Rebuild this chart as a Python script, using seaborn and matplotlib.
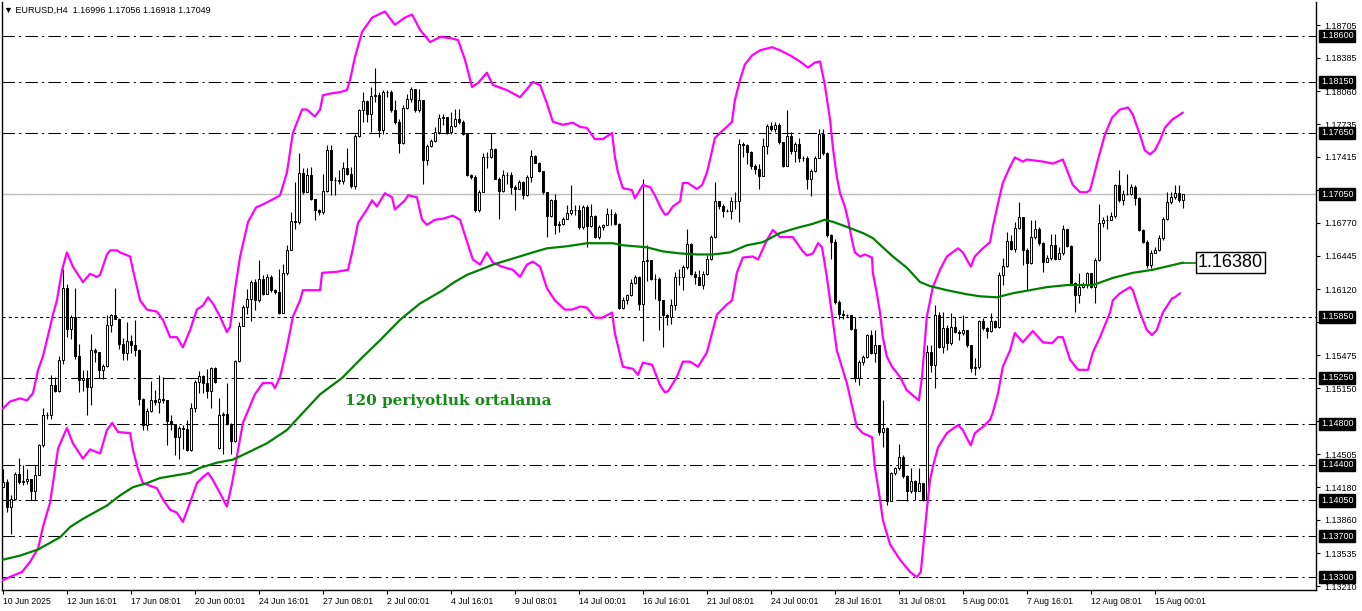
import numpy as np
import matplotlib
matplotlib.use("Agg")
import matplotlib.pyplot as plt
import seaborn as sns

# --- EURUSD H4 candles (one value per 4h bar) ---
closes = [
    1.14232, 1.13987, 1.14069, 1.14314, 1.14232, 1.14242, 1.14265, 1.14144, 1.14304, 1.14591,
    1.14885, 1.14885, 1.15179, 1.15124, 1.15424, 1.16133, 1.15734, 1.15849, 1.15467, 1.15228,
    1.15245, 1.15163, 1.15522, 1.15506, 1.15326, 1.15369, 1.15773, 1.15865, 1.15832, 1.15587,
    1.15496, 1.15613, 1.15571, 1.15522, 1.15042, 1.14787, 1.14928, 1.15039, 1.15016, 1.15042,
    1.15032, 1.14826, 1.14797, 1.14673, 1.14764, 1.14755, 1.14542, 1.14957, 1.15212, 1.15267,
    1.15202, 1.15120, 1.15349, 1.15212, 1.14885, 1.14895, 1.14797, 1.14631, 1.15418, 1.15760,
    1.15947, 1.16028, 1.16191, 1.16012, 1.16224, 1.16077, 1.16240, 1.16110, 1.16094, 1.15891,
    1.16280, 1.16502, 1.16789, 1.16779, 1.17253, 1.17073, 1.17236, 1.17008, 1.16894, 1.16871,
    1.17080, 1.17481, 1.17187, 1.17187, 1.17178, 1.17308, 1.17253, 1.17129, 1.17622, 1.17873,
    1.17961, 1.17840, 1.18013, 1.18020, 1.17677, 1.18052, 1.18052, 1.17873, 1.17759, 1.17556,
    1.17896, 1.17981, 1.18079, 1.17873, 1.17971, 1.17383, 1.17524, 1.17569, 1.17661, 1.17798,
    1.17808, 1.17661, 1.17720, 1.17791, 1.17759, 1.17644, 1.17236, 1.17220, 1.16894, 1.17073,
    1.17416, 1.17416, 1.17491, 1.17204, 1.17080, 1.17243, 1.17243, 1.17122, 1.17106, 1.17165,
    1.17040, 1.17220, 1.17426, 1.17360, 1.17276, 1.17073, 1.16838, 1.16998, 1.16747, 1.16756,
    1.16812, 1.16867, 1.16894, 1.16894, 1.16730, 1.16926, 1.16740, 1.16838, 1.16632, 1.16730,
    1.16744, 1.16858, 1.16858, 1.16760, 1.15936, 1.16011, 1.16060, 1.16184, 1.16239, 1.15978,
    1.16395, 1.16402, 1.16223, 1.16223, 1.16011, 1.15864, 1.15848, 1.15969, 1.16239, 1.16239,
    1.16337, 1.16565, 1.16272, 1.16239, 1.16164, 1.16272, 1.16418, 1.16630, 1.16982, 1.16933,
    1.16881, 1.16881, 1.16988, 1.16988, 1.17542, 1.17536, 1.17461, 1.17330, 1.17298, 1.17233,
    1.17526, 1.17721, 1.17689, 1.17728, 1.17558, 1.17330, 1.17617, 1.17477, 1.17542, 1.17402,
    1.17402, 1.17200, 1.17282, 1.17402, 1.17640, 1.17451, 1.16646, 1.16581, 1.15995, 1.15881,
    1.15864, 1.15864, 1.15734, 1.15245, 1.15408, 1.15457, 1.15675, 1.15490, 1.15571, 1.14724,
    1.14757, 1.14040, 1.14318, 1.14366, 1.14471, 1.14285, 1.14138, 1.14236, 1.14138, 1.14220,
    1.14057, 1.15508, 1.15377, 1.15866, 1.15557, 1.15736, 1.15589, 1.15752, 1.15703, 1.15687,
    1.15720, 1.15573, 1.15345, 1.15361, 1.15811, 1.15736, 1.15710, 1.15808, 1.15752, 1.16258,
    1.16349, 1.16594, 1.16512, 1.16724, 1.16828, 1.16502, 1.16372, 1.16633, 1.16714, 1.16568,
    1.16388, 1.16421, 1.16551, 1.16414, 1.16470, 1.16708, 1.16545, 1.16176, 1.16062, 1.16144,
    1.16160, 1.16274, 1.16144, 1.16404, 1.16773, 1.16796, 1.16802, 1.16838, 1.17145, 1.16991,
    1.17057, 1.17057, 1.17122, 1.17014, 1.16698, 1.16584, 1.16356, 1.16476, 1.16502, 1.16626,
    1.16812, 1.16975, 1.17024, 1.17066, 1.16991, 1.17049,
]
highs = [
    1.14363, 1.14265, 1.14102, 1.14330, 1.14467, 1.14396, 1.14363, 1.14265, 1.14396, 1.14608,
    1.14951, 1.14918, 1.15277, 1.15261, 1.15467, 1.16316, 1.16175, 1.15865, 1.16133, 1.15587,
    1.15326, 1.15326, 1.15685, 1.15545, 1.15506, 1.15391, 1.15865, 1.15881, 1.16133, 1.15839,
    1.15643, 1.15800, 1.15669, 1.15816, 1.15538, 1.15055, 1.14957, 1.15218, 1.15130, 1.15284,
    1.15261, 1.15032, 1.14885, 1.14804, 1.14781, 1.14787, 1.14836, 1.15009, 1.15228, 1.15316,
    1.15277, 1.15342, 1.15359, 1.15359, 1.15055, 1.14918, 1.15196, 1.14813, 1.15424, 1.15800,
    1.15969, 1.16126, 1.16208, 1.16224, 1.16404, 1.16257, 1.16273, 1.16257, 1.16126, 1.16322,
    1.16371, 1.16551, 1.16877, 1.17171, 1.17449, 1.17302, 1.17302, 1.17318, 1.17008, 1.16910,
    1.17253, 1.17537, 1.17537, 1.17220, 1.17285, 1.17367, 1.17498, 1.17318, 1.17644, 1.17889,
    1.18052, 1.17971, 1.18102, 1.18288, 1.18052, 1.18069, 1.18069, 1.18069, 1.17971, 1.17791,
    1.17922, 1.18036, 1.18102, 1.18085, 1.18085, 1.17971, 1.17546, 1.17595, 1.17710, 1.17840,
    1.17840, 1.17775, 1.17857, 1.17889, 1.17889, 1.17775, 1.17644, 1.17253, 1.17236, 1.17089,
    1.17449, 1.17465, 1.17654, 1.17504, 1.17220, 1.17285, 1.17269, 1.17269, 1.17145, 1.17187,
    1.17178, 1.17236, 1.17481, 1.17439, 1.17367, 1.17276, 1.17073, 1.17008, 1.17057, 1.16786,
    1.16828, 1.16943, 1.17138, 1.16943, 1.16943, 1.16943, 1.16943, 1.16959, 1.16845, 1.16747,
    1.16760, 1.16913, 1.16907, 1.16874, 1.16770, 1.16043, 1.16076, 1.16223, 1.16255, 1.16249,
    1.17200, 1.16548, 1.16386, 1.16272, 1.16239, 1.16017, 1.15881, 1.16027, 1.16288, 1.16320,
    1.16353, 1.16711, 1.16575, 1.16294, 1.16304, 1.16294, 1.16451, 1.16646, 1.17167, 1.16988,
    1.16956, 1.16907, 1.17021, 1.17070, 1.17591, 1.17558, 1.17542, 1.17477, 1.17347, 1.17347,
    1.17598, 1.17738, 1.17754, 1.17754, 1.17747, 1.17565, 1.17874, 1.17656, 1.17558, 1.17598,
    1.17422, 1.17422, 1.17298, 1.17428, 1.17689, 1.17689, 1.17461, 1.16663, 1.16614, 1.16011,
    1.15913, 1.15881, 1.15871, 1.15848, 1.15425, 1.15473, 1.15685, 1.15718, 1.15718, 1.15571,
    1.15034, 1.14773, 1.14333, 1.14382, 1.14601, 1.14497, 1.14301, 1.14366, 1.14252, 1.14366,
    1.14220, 1.15573, 1.15573, 1.15964, 1.15899, 1.15893, 1.15769, 1.15883, 1.15850, 1.15720,
    1.15866, 1.15720, 1.15573, 1.15443, 1.15818, 1.15841, 1.15752, 1.15883, 1.15818, 1.16290,
    1.16421, 1.16682, 1.16649, 1.16780, 1.16975, 1.16828, 1.16519, 1.16796, 1.16796, 1.16731,
    1.16584, 1.16453, 1.16665, 1.16665, 1.16535, 1.16747, 1.16714, 1.16551, 1.16193, 1.16274,
    1.16186, 1.16290, 1.16274, 1.16421, 1.16959, 1.16828, 1.16845, 1.16877, 1.17154, 1.17285,
    1.17089, 1.17252, 1.17154, 1.17138, 1.17024, 1.16708, 1.16600, 1.16502, 1.16535, 1.16649,
    1.16828, 1.17073, 1.17073, 1.17145, 1.17145, 1.17056,
]
lows = [
    1.14183, 1.13938, 1.13726, 1.14053, 1.14216, 1.14200, 1.14216, 1.14053, 1.14053, 1.14298,
    1.14575, 1.14853, 1.14846, 1.15114, 1.15114, 1.15391, 1.15653, 1.15636, 1.15440, 1.15114,
    1.15120, 1.14885, 1.14990, 1.15408, 1.15245, 1.15238, 1.15359, 1.15702, 1.15826, 1.15538,
    1.15424, 1.15424, 1.15499, 1.15467, 1.14983, 1.14738, 1.14738, 1.14918, 1.14983, 1.14911,
    1.15009, 1.14591, 1.14738, 1.14500, 1.14461, 1.14559, 1.14533, 1.14536, 1.14918, 1.15098,
    1.15098, 1.15049, 1.14951, 1.15205, 1.14559, 1.14510, 1.14787, 1.14510, 1.14624, 1.15408,
    1.15767, 1.15881, 1.15806, 1.15914, 1.15996, 1.16061, 1.16094, 1.16094, 1.16077, 1.15881,
    1.15891, 1.16257, 1.16502, 1.16714, 1.16763, 1.17057, 1.17073, 1.16991, 1.16796, 1.16845,
    1.16861, 1.17073, 1.17040, 1.17040, 1.17155, 1.17155, 1.17236, 1.17112, 1.17106, 1.17612,
    1.17759, 1.17759, 1.17661, 1.17955, 1.17612, 1.17644, 1.18004, 1.17857, 1.17742, 1.17449,
    1.17546, 1.17889, 1.17955, 1.17857, 1.17857, 1.17155, 1.17334, 1.17514, 1.17563, 1.17644,
    1.17726, 1.17644, 1.17644, 1.17710, 1.17742, 1.17628, 1.17230, 1.17204, 1.16877, 1.16877,
    1.17089, 1.17302, 1.17400, 1.17197, 1.16812, 1.17073, 1.17155, 1.17057, 1.16894, 1.17106,
    1.17008, 1.17034, 1.17165, 1.17351, 1.17269, 1.17057, 1.16632, 1.16828, 1.16665, 1.16681,
    1.16747, 1.16812, 1.16845, 1.16845, 1.16714, 1.16714, 1.16535, 1.16730, 1.16623, 1.16616,
    1.16695, 1.16744, 1.16750, 1.16744, 1.15923, 1.15929, 1.15978, 1.16053, 1.16174, 1.15913,
    1.15610, 1.16197, 1.16206, 1.16027, 1.15718, 1.15555, 1.15766, 1.15783, 1.15913, 1.16158,
    1.16109, 1.16320, 1.16255, 1.16174, 1.16158, 1.16125, 1.16262, 1.16402, 1.16620, 1.16907,
    1.16825, 1.16874, 1.16809, 1.16907, 1.16777, 1.17412, 1.17347, 1.17298, 1.17249, 1.17102,
    1.17226, 1.17444, 1.17666, 1.17656, 1.17542, 1.17314, 1.17330, 1.17444, 1.17363, 1.17363,
    1.17379, 1.17102, 1.17037, 1.17272, 1.17526, 1.17435, 1.16630, 1.16418, 1.15978, 1.15832,
    1.15832, 1.15848, 1.15718, 1.15213, 1.15180, 1.15376, 1.15441, 1.15480, 1.15408, 1.14691,
    1.14577, 1.14007, 1.14073, 1.14300, 1.14350, 1.14269, 1.14040, 1.14122, 1.14057, 1.14138,
    1.14040, 1.14008, 1.15312, 1.15149, 1.15540, 1.15491, 1.15524, 1.15573, 1.15687, 1.15622,
    1.15671, 1.15557, 1.15312, 1.15279, 1.15338, 1.15720, 1.15638, 1.15703, 1.15736, 1.15743,
    1.16160, 1.16339, 1.16502, 1.16486, 1.16714, 1.16356, 1.16111, 1.16362, 1.16616, 1.16551,
    1.16290, 1.16382, 1.16405, 1.16405, 1.16453, 1.16453, 1.16535, 1.16160, 1.15892, 1.15981,
    1.16127, 1.16134, 1.16127, 1.15981, 1.16395, 1.16731, 1.16714, 1.16796, 1.16819, 1.16975,
    1.16942, 1.17040, 1.17047, 1.16942, 1.16688, 1.16568, 1.16323, 1.16330, 1.16470, 1.16493,
    1.16600, 1.16796, 1.16959, 1.17008, 1.16975, 1.16918,
]
first_open = 1.14183
gap_opens = {54: 1.14565, 295: 1.16996}  # weekend gap and the live bar

# Bollinger bands (magenta) and 120-period MA (green), sampled along the drawn lines
upper_idx = [
    -0.1, 1.7, 4.2, 5.9, 7.4, 8.7, 9.9, 11.7, 12.4, 13.4, 14.7, 15.9, 17.4, 19.9, 21.7, 23.4,
    24.2, 25.9, 26.7, 28.4, 29.2, 31.7, 32.4, 34.2, 35.9, 38.4, 39.9, 41.7, 43.4, 44.9, 46.7,
    48.4, 49.9, 51.2, 52.4, 54.2, 55.9, 56.7, 57.9, 59.2, 61.2, 63.2, 65.4, 67.9, 69.2, 70.9,
    72.4, 74.7, 75.9, 77.9, 79.2, 79.9, 82.4, 84.2, 85.9, 86.7, 87.9, 89.7, 92.2, 95.4, 97.9,
    100.4, 102.2, 104.2, 106.7, 109.2, 111.7, 113.7, 115.4, 117.2, 118.7, 120.9, 122.4, 125.9,
    129.2, 132.4, 134.2, 135.9, 137.4, 139.9, 142.4, 144.2, 145.9, 147.9, 149.9, 152.2, 152.9,
    153.7, 154.9, 157.2, 157.9, 159.9, 161.7, 162.9, 164.2, 165.4, 166.2, 167.4, 169.2, 169.9,
    171.2, 173.4, 174.7, 175.9, 176.7, 177.9, 179.2, 180.9, 182.2, 182.9, 184.2, 185.4, 187.2,
    189.2, 192.2, 194.2, 196.7, 199.2, 201.2, 202.9, 204.2, 205.4, 206.7, 207.4, 208.4, 209.2,
    210.4, 211.2, 212.2, 212.9, 214.2, 215.4, 217.2, 217.4, 218.4, 219.2, 219.9, 220.9, 222.2,
    224.2, 225.9, 227.4, 228.9, 229.7, 230.9, 232.4, 234.2, 235.9, 238.7, 239.9, 240.9, 241.9,
    242.9, 244.9, 246.7, 247.4, 248.7, 249.9, 251.7, 252.9, 254.9, 255.9, 259.9, 262.4, 264.9,
    266.2, 267.4, 269.2, 270.9, 271.7, 272.4, 273.7, 275.4, 277.2, 279.2, 281.2, 282.4, 284.2,
    285.4, 286.7, 287.9, 289.2, 290.4, 292.2, 294.2, 294.9,
]
upper = [
    1.1495, 1.1502, 1.1505, 1.1503, 1.1510, 1.1533, 1.1546, 1.1575, 1.1587, 1.1601, 1.1631,
    1.1648, 1.1634, 1.1619, 1.1627, 1.1624, 1.1626, 1.1646, 1.1650, 1.1650, 1.1648, 1.1644,
    1.1631, 1.1601, 1.1592, 1.1590, 1.1582, 1.1565, 1.1565, 1.1555, 1.1572, 1.1592, 1.1596,
    1.1604, 1.1598, 1.1585, 1.1570, 1.1575, 1.1611, 1.1644, 1.1678, 1.1692, 1.1696, 1.1701,
    1.1704, 1.1726, 1.1765, 1.1788, 1.1788, 1.1781, 1.1788, 1.1802, 1.1804, 1.1805, 1.1807,
    1.1817, 1.1839, 1.1864, 1.1878, 1.1884, 1.1871, 1.1878, 1.1881, 1.1866, 1.1854, 1.1859,
    1.1858, 1.1856, 1.1837, 1.1810, 1.1814, 1.1824, 1.1812, 1.1807, 1.1800, 1.1815, 1.1812,
    1.1794, 1.1776, 1.1773, 1.1775, 1.1771, 1.1770, 1.1759, 1.1759, 1.1765, 1.1742, 1.1726,
    1.1711, 1.1709, 1.1701, 1.1714, 1.1712, 1.1704, 1.1693, 1.1685, 1.1686, 1.1693, 1.1698,
    1.1716, 1.1716, 1.1710, 1.1714, 1.1726, 1.1739, 1.1760, 1.1765, 1.1771, 1.1776, 1.1797,
    1.1817, 1.1832, 1.1841, 1.1846, 1.1849, 1.1846, 1.1841, 1.1835, 1.1829, 1.1834, 1.1835,
    1.1812, 1.1778, 1.1751, 1.1722, 1.1706, 1.1693, 1.1680, 1.1660, 1.1648, 1.1644, 1.1646,
    1.1643, 1.1628, 1.1608, 1.1589, 1.1565, 1.1546, 1.1536, 1.1526, 1.1513, 1.1508, 1.1503,
    1.1526, 1.1585, 1.1614, 1.1631, 1.1644, 1.1652, 1.1648, 1.1641, 1.1634, 1.1644, 1.1652,
    1.1658, 1.1673, 1.1696, 1.1716, 1.1732, 1.1741, 1.1737, 1.1739, 1.1737, 1.1735, 1.1739,
    1.1726, 1.1714, 1.1707, 1.1707, 1.1709, 1.1719, 1.1739, 1.1763, 1.1780, 1.1788, 1.1790,
    1.1783, 1.1763, 1.1748, 1.1744, 1.1748, 1.1758, 1.1770, 1.1778, 1.1783, 1.1785,
]
lower_idx = [
    -0.1, 2.2, 4.7, 6.7, 8.7, 9.9, 11.7, 13.7, 15.9, 17.4, 19.9, 21.7, 24.2, 25.9, 27.2, 28.7,
    31.7, 32.4, 33.7, 34.9, 38.4, 39.9, 41.7, 43.4, 44.9, 46.7, 48.4, 49.9, 51.2, 52.4, 54.2,
    55.9, 57.2, 58.4, 59.9, 62.9, 64.9, 67.2, 67.9, 69.2, 70.9, 72.4, 74.2, 74.9, 79.2, 79.7,
    83.4, 86.2, 87.2, 88.7, 90.9, 92.2, 93.4, 95.4, 97.2, 97.9, 100.4, 101.2, 103.4, 104.7,
    105.9, 107.9, 109.9, 112.4, 114.2, 115.4, 117.4, 119.2, 120.9, 122.4, 124.7, 127.4, 129.2,
    130.9, 132.4, 134.2, 135.9, 137.9, 140.4, 142.2, 144.2, 145.9, 147.9, 149.7, 152.2, 152.9,
    154.9, 157.4, 158.7, 159.9, 162.2, 164.2, 165.4, 166.2, 168.4, 169.9, 171.7, 173.7, 175.9,
    177.2, 178.4, 180.9, 182.2, 183.4, 184.9, 187.4, 188.7, 190.9, 192.4, 194.2, 197.4, 199.7,
    200.9, 202.4, 203.7, 204.7, 205.9, 206.7, 208.4, 210.9, 213.4, 214.9, 217.2, 217.9, 219.2,
    219.9, 221.7, 224.2, 226.7, 228.4, 229.4, 230.4, 230.9, 231.7, 232.4, 233.7, 235.9, 238.7,
    239.9, 240.9, 241.9, 242.9, 244.9, 246.7, 247.4, 248.7, 249.9, 251.7, 252.9, 254.9, 257.4,
    259.9, 262.2, 263.7, 264.9, 266.7, 268.7, 271.2, 272.4, 274.2, 276.7, 277.4, 279.2, 281.7,
    282.4, 284.2, 285.9, 287.2, 288.4, 289.9, 292.2, 292.9, 294.2,
]
lower = [
    1.1327, 1.1331, 1.1335, 1.1345, 1.1358, 1.1379, 1.1403, 1.1456, 1.1476, 1.1461, 1.1446,
    1.1455, 1.1451, 1.1474, 1.1481, 1.1472, 1.1471, 1.1455, 1.1435, 1.1422, 1.1417, 1.1406,
    1.1396, 1.1393, 1.1384, 1.1403, 1.1422, 1.1428, 1.1432, 1.1425, 1.1412, 1.1399, 1.1422,
    1.1448, 1.1481, 1.1509, 1.1520, 1.1520, 1.1515, 1.1526, 1.1555, 1.1585, 1.1601, 1.1611,
    1.1611, 1.1628, 1.1629, 1.1631, 1.1648, 1.1677, 1.1690, 1.1699, 1.1693, 1.1706, 1.1702,
    1.1690, 1.1699, 1.1704, 1.1702, 1.1680, 1.1675, 1.1680, 1.1681, 1.1684, 1.1680, 1.1665,
    1.1641, 1.1636, 1.1648, 1.1638, 1.1634, 1.1631, 1.1624, 1.1636, 1.1639, 1.1634, 1.1613,
    1.1601, 1.1592, 1.1592, 1.1595, 1.1594, 1.1584, 1.1584, 1.1589, 1.1569, 1.1536, 1.1534,
    1.1528, 1.1540, 1.1538, 1.1518, 1.1511, 1.1512, 1.1526, 1.1541, 1.1541, 1.1536, 1.1550,
    1.1569, 1.1587, 1.1597, 1.1601, 1.1628, 1.1643, 1.1644, 1.1641, 1.1660, 1.1670, 1.1663,
    1.1663, 1.1650, 1.1645, 1.1647, 1.1657, 1.1653, 1.1624, 1.1601, 1.1552, 1.1520, 1.1477,
    1.1471, 1.1467, 1.1438, 1.1406, 1.1386, 1.1362, 1.1347, 1.1335, 1.1330, 1.1335, 1.1376,
    1.1396, 1.1425, 1.1438, 1.1457, 1.1471, 1.1479, 1.1474, 1.1466, 1.1459, 1.1471, 1.1477,
    1.1484, 1.1491, 1.1510, 1.1536, 1.1552, 1.1569, 1.1560, 1.1571, 1.1560, 1.1559, 1.1565,
    1.1565, 1.1543, 1.1533, 1.1533, 1.1550, 1.1565, 1.1589, 1.1601, 1.1608, 1.1614, 1.1611,
    1.1589, 1.1572, 1.1567, 1.1572, 1.1589, 1.1603, 1.1604, 1.1608,
]
ma_idx = [
    -0.1, 4.2, 8.7, 14.2, 16.7, 19.9, 25.9, 29.2, 32.4, 35.9, 39.2, 46.7, 49.2, 53.4, 57.4,
    61.7, 65.9, 70.9, 74.2, 79.2, 84.7, 89.2, 94.2, 99.2, 104.2, 109.9, 112.4, 115.9, 119.2,
    122.4, 127.4, 132.4, 135.9, 140.9, 145.9, 152.4, 154.9, 160.9, 164.9, 169.2, 173.4, 177.4,
    181.7, 185.9, 189.9, 194.2, 198.4, 202.4, 205.4, 207.4, 210.9, 214.9, 217.4, 219.9, 222.4,
    225.9, 229.2, 231.7, 235.9, 240.9, 244.2, 248.4, 252.4, 256.7, 260.9, 265.9, 272.4, 277.4,
    282.4, 287.4, 291.7, 295.0,
]
ma = [
    1.1347, 1.1351, 1.1357, 1.1369, 1.1379, 1.1387, 1.1400, 1.1410, 1.1418, 1.1422, 1.1427,
    1.1432, 1.1437, 1.1442, 1.1445, 1.1453, 1.1461, 1.1474, 1.1488, 1.1509, 1.1525, 1.1543,
    1.1562, 1.1582, 1.1598, 1.1611, 1.1618, 1.1626, 1.1631, 1.1636, 1.1642, 1.1648, 1.1652,
    1.1654, 1.1657, 1.1657, 1.1655, 1.1653, 1.1649, 1.1647, 1.1646, 1.1646, 1.1648, 1.1655,
    1.1658, 1.1667, 1.1672, 1.1676, 1.1680, 1.1678, 1.1673, 1.1667, 1.1662, 1.1653, 1.1644,
    1.1633, 1.1619, 1.1615, 1.1611, 1.1607, 1.1605, 1.1604, 1.1608, 1.1611, 1.1614, 1.1616,
    1.1616, 1.1623, 1.1628, 1.1631, 1.1635, 1.1638,
]

date_idx = [0, 16, 32, 48, 64, 80, 96, 112, 128, 144, 160, 176, 192, 208, 224, 240, 256, 272, 288]
date_labels = [
    "10 Jun 2025", "12 Jun 16:01", "17 Jun 08:01", "20 Jun 00:01", "24 Jun 16:01",
    "27 Jun 08:01", "2 Jul 00:01", "4 Jul 16:01", "9 Jul 08:01", "14 Jul 00:01",
    "16 Jul 16:01", "21 Jul 08:01", "24 Jul 00:01", "28 Jul 16:01", "31 Jul 08:01",
    "5 Aug 00:01", "7 Aug 16:01", "12 Aug 08:01", "15 Aug 00:01",
]
price_ticks = [
    1.18705, 1.18385, 1.18060, 1.17735, 1.17415, 1.17090, 1.16770, 1.16445, 1.16120,
    1.15800, 1.15475, 1.15150, 1.14830, 1.14505, 1.14180, 1.13860, 1.13535, 1.13210,
]
hidden_ticks = [1.17090, 1.15800, 1.14830]  # covered by the level boxes in the screenshot
levels = [1.18600, 1.18150, 1.17650, 1.17050, 1.15850, 1.15250, 1.14800, 1.14400, 1.14050, 1.13700, 1.13300]
dotted_level = 1.15850
bid = 1.17049
ma_label = "1.16380"
title = "\u25bc EURUSD,H4  1.16996 1.17056 1.16918 1.17049"
ma_note = "120 periyotluk ortalama"

W, H = 1362, 611


def draw_candles(ax):
    c = np.array(closes)
    o = np.array([first_open] + closes[:-1])
    for i, v in gap_opens.items():
        o[i] = v
    x = np.arange(len(c))
    ax.vlines(x, lows, highs, color="black", linewidth=0.8, zorder=3)
    fill = np.where(c >= o, "white", "black")
    ax.bar(x, np.abs(c - o), bottom=np.minimum(o, c), width=0.5, color=fill,
           edgecolor="black", linewidth=0.7, zorder=4)


def main():
    sns.set_style("white")
    plt.rcParams["font.family"] = ["Liberation Sans", "DejaVu Sans"]

    fig = plt.figure(figsize=(W / 100, H / 100), dpi=100)
    # plot frame: x 2..1316 px, y 2..590 px
    ax = fig.add_axes([2 / W, (H - 590) / H, 1314 / W, 588 / H])
    ax.set_xlim(-0.33, 328.2)
    ax.set_ylim(1.13173, 1.18933)

    # horizontal levels
    for lv in levels:
        ls = (0, (3, 3)) if lv == dotted_level else (0, (12, 4, 2, 4))
        ax.axhline(lv, color="black", linewidth=0.75, linestyle=ls, zorder=1)
    ax.axhline(bid, color="#c0c0c0", linewidth=1, zorder=1)

    draw_candles(ax)

    sns.lineplot(x=upper_idx, y=upper, color="#ff00ff", linewidth=1.6, ax=ax,
                 estimator=None, sort=False, legend=False, zorder=5)
    sns.lineplot(x=lower_idx, y=lower, color="#ff00ff", linewidth=1.6, ax=ax,
                 estimator=None, sort=False, legend=False, zorder=5)
    sns.lineplot(x=ma_idx, y=ma, color="#008000", linewidth=1.6, ax=ax,
                 estimator=None, sort=False, legend=False, zorder=6)

    # MA value tag
    tag_x = 298.2
    ax.plot([ma_idx[-1], tag_x], [ma[-1], ma[-1]], color="#008000", linewidth=1.2, zorder=6)
    ax.text(tag_x + 0.5, ma[-1], ma_label, fontsize=13, ha="left", va="center", color="black",
            bbox=dict(boxstyle="square,pad=0.1", facecolor="white", edgecolor="black", linewidth=1),
            zorder=7)

    ax.text(111.2, 1.1502, ma_note, fontsize=11, color="#138a13", family="DejaVu Serif",
            weight="bold", ha="center", va="center", zorder=7)

    fig.text(4 / W, 1 - 10 / H, title, fontsize=6.5, ha="left", va="center", color="black")

    # axes / ticks
    ax.yaxis.tick_right()
    ax.set_yticks(price_ticks)
    ax.set_yticklabels(["" if t in hidden_ticks else f"{t:.5f}" for t in price_ticks])
    ax.tick_params(axis="y", direction="out", length=3, width=0.8, labelsize=6.5, pad=3,
                   colors="black", right=True, left=False)
    ax.set_xticks(date_idx)
    ax.set_xticklabels(date_labels, ha="left")
    ax.tick_params(axis="x", direction="out", length=3, width=0.8, labelsize=6.2, pad=2,
                   colors="black", bottom=True)
    ax.set_xlabel("")
    ax.set_ylabel("")

    for side in ["left", "right", "bottom"]:
        ax.spines[side].set_visible(True)
        ax.spines[side].set_color("black")
        ax.spines[side].set_linewidth(1)
    ax.spines["top"].set_visible(False)

    # black price-level boxes on the scale
    for lv in levels:
        ax.text(1.0038, lv, f"{lv:.5f}", transform=ax.get_yaxis_transform(), fontsize=6.5,
                color="white", ha="left", va="center", clip_on=False, zorder=8,
                bbox=dict(boxstyle="square,pad=0.18", facecolor="black", edgecolor="black"))

    fig.savefig("out.png", dpi=100)
    plt.close(fig)


if __name__ == "__main__":
    main()
